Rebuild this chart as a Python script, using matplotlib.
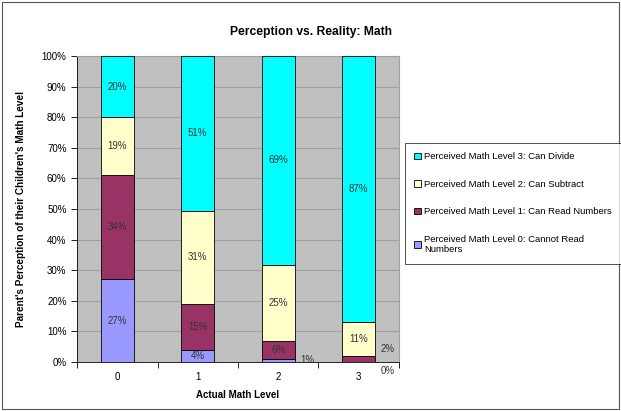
import numpy as np
import matplotlib.pyplot as plt
from matplotlib.patches import Rectangle

plt.rcParams['font.family'] = ['Liberation Sans', 'DejaVu Sans']

categories = ['0', '1', '2', '3']
level0 = [27, 4, 1, 0]
level1 = [34, 15, 6, 2]
level2 = [19, 31, 25, 11]
level3 = [20, 51, 69, 87]
series = [level0, level1, level2, level3]
names = ['Perceived Math Level 0: Cannot Read\nNumbers',
         'Perceived Math Level 1: Can Read Numbers',
         'Perceived Math Level 2: Can Subtract',
         'Perceived Math Level 3: Can Divide']
colors = ['#9999FF', '#993366', '#FFFFCC', '#00FFFF']

data = np.array(series, dtype=float)
share = data / data.sum(axis=0) * 100  # 100% stacked

fig = plt.figure(figsize=(6.21, 4.11), dpi=100)
ax = fig.add_axes([0.124, 0.119, 0.5185, 0.745])
ax.set_facecolor('#C0C0C0')

x = np.arange(len(categories))
bottom = np.zeros(len(categories))
for vals, raw, name, col in zip(share, data, names, colors):
    ax.bar(x, vals, 0.41, bottom=bottom, color=col, edgecolor='black',
           linewidth=0.6, label=name, zorder=3)
    for xi, v, r, b0 in zip(x, vals, raw, bottom):
        if r >= 4:
            ax.text(xi, b0 + v / 2, '%d%%' % r, ha='center', va='center',
                    fontsize=7, color='#333333', zorder=4)
    bottom += vals

# small segments labelled to the right of the bar
ax.text(2.27, 0.8, '1%', fontsize=7, color='#333333', va='center', zorder=4)
ax.text(3.27, 4.3, '2%', fontsize=7, color='#333333', va='center', zorder=4)
ax.text(3.27, -3.0, '0%', fontsize=7, color='#333333', va='center',
        zorder=4, clip_on=False)

ax.set_xlim(-0.5, 3.5)
ax.set_ylim(0, 100)
ax.set_yticks(np.arange(0, 101, 10))
ax.set_yticklabels(['%d%%' % v for v in range(0, 101, 10)])
ax.yaxis.grid(True, color='#A0A0A0', linewidth=0.8, zorder=0)
ax.set_axisbelow(True)

ax.set_xticks(x)
ax.set_xticklabels(categories)
ax.set_xticks(np.arange(-0.5, 4, 1), minor=True)
ax.tick_params(axis='x', which='major', length=0, labelsize=7, pad=7)
ax.tick_params(axis='x', which='minor', length=4, width=0.6)
ax.tick_params(axis='y', length=4, width=0.6, labelsize=7, colors='black')

for s in ['top', 'right']:
    ax.spines[s].set_color('#A0A0A0')
    ax.spines[s].set_linewidth(0.8)
for s in ['left', 'bottom']:
    ax.spines[s].set_color('black')
    ax.spines[s].set_linewidth(0.6)

ax.set_xlabel('Actual Math Level', fontsize=7, fontweight='bold', labelpad=6)
ax.set_ylabel("Parent's Perception of their Children's Math Level", fontsize=7.2,
              fontweight='bold', labelpad=11)
fig.text(0.5, 0.923, 'Perception vs. Reality: Math', ha='center', va='center',
         fontsize=8.7, fontweight='bold')

h, l = ax.get_legend_handles_labels()
leg = fig.legend(h[::-1], l[::-1], loc='upper left',
                 bbox_to_anchor=(0.652, 0.652), fontsize=6.8, frameon=True,
                 fancybox=False, edgecolor='black', labelspacing=1.95,
                 handlelength=0.7, handleheight=0.7, handletextpad=0.3,
                 borderpad=1.0, borderaxespad=0)
leg.get_frame().set_linewidth(0.6)

fig.patches.append(Rectangle((0.004, 0.005), 0.992, 0.99, transform=fig.transFigure,
                             fill=False, edgecolor='#555555', linewidth=0.8))

fig.savefig('out.png', dpi=100)
